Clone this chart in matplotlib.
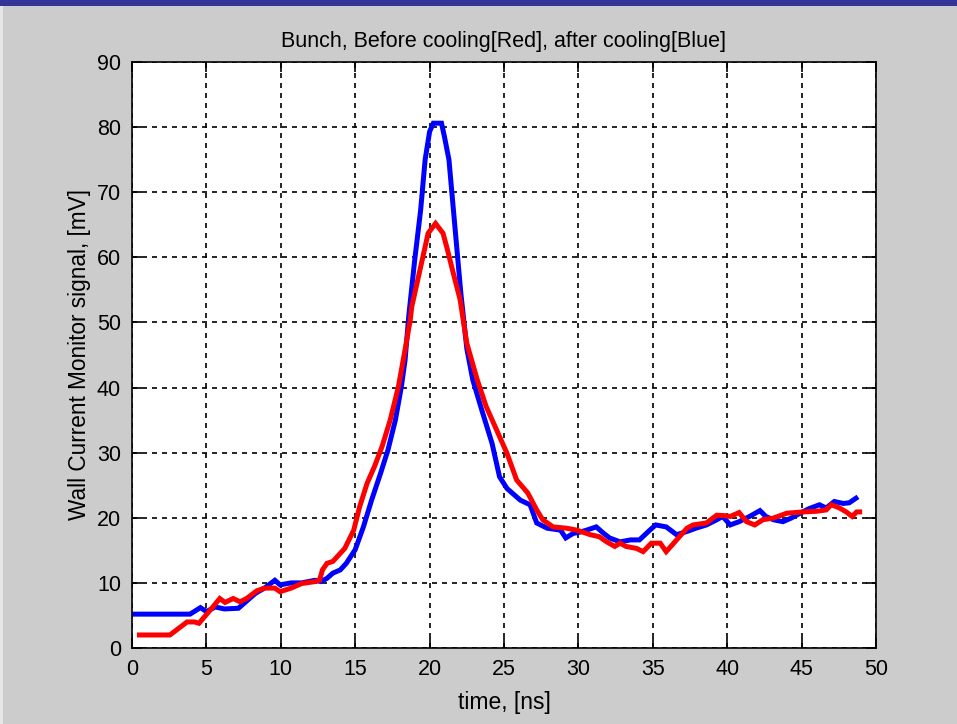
import matplotlib.pyplot as plt
from matplotlib.patches import Rectangle

plt.rcParams['font.family'] = ['Liberation Sans', 'DejaVu Sans']

# after cooling (blue)
t_after = [0.0, 3.9, 4.6, 5.0, 5.6, 6.2, 7.15, 8.3, 8.9, 9.6, 9.95, 10.7, 11.4, 12.3, 12.7,
           13.1, 13.5, 14.0, 14.4, 15.0, 15.55, 16.1, 16.7, 17.2, 17.7, 18.1, 18.35, 18.6,
           19.0, 19.4, 19.7, 20.0, 20.25, 20.8, 21.0, 21.3, 21.6, 21.9, 22.1, 22.5, 22.9,
           23.5, 24.2, 24.7, 25.2, 26.1, 26.75, 27.2, 27.9, 28.8, 29.15, 29.65, 30.1, 30.55,
           31.2, 31.7, 32.1, 32.8, 33.5, 34.1, 34.8, 35.2, 35.9, 36.6, 37.3, 37.9, 38.6,
           39.3, 39.7, 40.2, 40.8, 41.5, 42.2, 42.6, 43.1, 43.75, 44.3, 44.9, 45.5, 46.2,
           46.65, 47.2, 47.8, 48.2, 48.65]
v_after = [5.2, 5.2, 6.2, 5.6, 6.3, 6.0, 6.1, 8.4, 9.2, 10.4, 9.7, 10.0, 10.0, 10.4, 10.2,
           10.7, 11.5, 12.0, 13.0, 15.1, 18.6, 22.7, 26.8, 30.4, 35.0, 40.1, 44.2, 51.0,
           59.6, 67.3, 75.0, 79.3, 80.6, 80.6, 78.5, 75.0, 67.3, 59.6, 54.5, 46.0, 41.2,
           36.6, 31.4, 26.3, 24.5, 22.7, 22.0, 19.2, 18.4, 18.1, 16.9, 17.6, 17.8, 18.1,
           18.6, 17.6, 16.9, 16.3, 16.6, 16.6, 18.1, 18.9, 18.6, 17.4, 17.9, 18.4, 18.9,
           19.7, 20.2, 18.9, 19.4, 20.2, 21.1, 20.2, 19.7, 19.4, 19.95, 20.7, 21.4, 22.0,
           21.5, 22.5, 22.2, 22.3, 23.0]

# before cooling (red)
t_before = [0.5, 2.55, 3.7, 4.2, 4.5, 5.36, 5.9, 6.25, 6.8, 7.26, 7.7, 8.4, 8.94, 9.6, 9.95,
            10.7, 11.4, 12.3, 12.6, 12.8, 13.1, 13.5, 14.3, 14.9, 15.3, 15.8, 16.3, 16.8,
            17.35, 17.9, 18.35, 18.7, 18.8, 19.25, 19.6, 19.9, 20.4, 20.9, 21.15, 21.6,
            22.05, 22.5, 23.2, 23.8, 24.5, 25.2, 25.85, 26.6, 27.2, 27.6, 28.3, 29.2, 29.9,
            30.8, 31.4, 31.9, 32.45, 32.8, 33.2, 33.9, 34.35, 34.9, 35.5, 35.9, 36.6, 37.3,
            37.7, 38.6, 39.3, 39.95, 40.2, 40.8, 41.3, 41.85, 42.4, 43.1, 44.0, 45.1, 46.0,
            46.65, 47.0, 47.55, 48.0, 48.4, 48.7, 48.9]
v_before = [2.0, 2.0, 4.0, 4.0, 3.8, 6.1, 7.6, 7.0, 7.6, 7.1, 7.6, 8.8, 9.2, 9.2, 8.65,
            9.2, 9.9, 10.2, 10.4, 12.0, 13.0, 13.3, 15.3, 18.1, 21.7, 25.3, 27.9, 30.9,
            35.0, 40.1, 45.8, 50.4, 52.4, 57.0, 60.6, 63.7, 65.2, 63.7, 61.6, 57.5,
            53.5, 46.8, 41.2, 37.1, 33.5, 29.9, 25.8, 23.8, 21.2, 19.7, 18.6, 18.4, 18.1,
            17.4, 17.1, 16.3, 15.6, 16.1, 15.6, 15.3, 14.8, 16.1, 16.1, 14.8, 16.6, 18.4,
            18.9, 19.2, 20.4, 20.3, 20.2, 20.8, 19.4, 18.9, 19.7, 19.95, 20.7, 20.9, 21.0,
            21.2, 22.0, 21.5, 20.9, 20.2, 20.9, 20.9]

x_ticks = range(0, 51, 5)
y_ticks = range(0, 91, 10)

fig = plt.figure(figsize=(9.57, 7.24), dpi=100, facecolor='#cccccc')
# window title bar + left edge
fig.patches.append(Rectangle((0, 1 - 6 / 724), 1, 6 / 724, transform=fig.transFigure,
                             facecolor='#333399', edgecolor='none'))
fig.patches.append(Rectangle((0, 0), 3 / 957, 1 - 6 / 724, transform=fig.transFigure,
                             facecolor='#e6e6e6', edgecolor='none'))

ax = fig.add_axes([132 / 957, 76 / 724, 744 / 957, 586 / 724])
ax.plot(t_after, v_after, color='#0000ff', lw=3.6, solid_joinstyle='miter')
ax.plot(t_before, v_before, color='#ff0000', lw=3.6, solid_joinstyle='miter')

ax.set_xlim(0, 50)
ax.set_ylim(0, 90)
ax.set_xticks(x_ticks)
ax.set_yticks(y_ticks)
ax.grid(True, color='black', linestyle=(0, (3, 3)), linewidth=1.2)
ax.tick_params(direction='in', length=7, width=1.2, top=True, right=True,
               labelsize=15.5, pad=8)
for s in ax.spines.values():
    s.set_linewidth(1.2)

ax.set_title('Bunch, Before cooling[Red], after cooling[Blue]', fontsize=15.5, pad=11)
ax.set_xlabel('time, [ns]', fontsize=16.5, labelpad=8)
ax.set_ylabel('Wall Current Monitor signal, [mV]', fontsize=16.3, labelpad=4)

fig.savefig('out.png', dpi=100, facecolor=fig.get_facecolor())
